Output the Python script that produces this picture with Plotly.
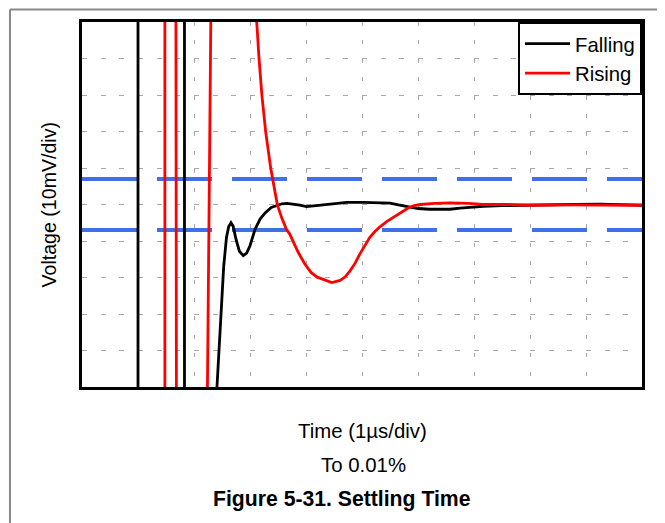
import plotly.graph_objects as go

# ---- data (time in µs, voltage in mV relative to final value) ----
falling_t = [0, 1.00, 1.00, 1.83, 1.83, 2.21, 2.41, 2.47, 2.53, 2.58, 2.62, 2.66, 2.70,
             2.75, 2.81, 2.88, 2.94, 3.00, 3.09, 3.18, 3.27, 3.38, 3.48, 3.57, 3.66,
             3.78, 3.89, 4.01, 4.13, 4.31, 4.50, 4.73, 5.02, 5.30, 5.50, 5.65, 5.83,
             6.00, 6.21, 6.57, 6.75, 7.16, 7.50, 7.77, 8.36, 8.80, 9.25, 9.60, 10.0]
falling_v = [-100, -100, 100, 100, -100, -100, -50, -33, -17, -9, -6, -5.0, -6.0,
             -9.5, -12.8, -14.0, -13.3, -11.3, -6.8, -4.0, -2.3, -0.8, -0.2, 0.2, 0.3,
             0.1, -0.2, -0.6, -0.4, 0.0, 0.4, 0.6, 0.6, 0.6, 0.4, -0.1, -0.6,
             -1.1, -1.3, -1.3, -1.0, -0.5, -0.3, -0.2, 0.0, 0.0, 0.1, 0.0, -0.2]

rising_t = [0, 1.48, 1.48, 1.673, 1.69, 2.21, 2.33, 3.00, 3.04, 3.08, 3.12, 3.16, 3.21,
            3.28, 3.37, 3.46, 3.49, 3.57, 3.65, 3.71, 3.86, 3.98, 4.09, 4.20, 4.31,
            4.46, 4.61, 4.70, 4.79, 4.88, 4.96, 5.05, 5.14, 5.23, 5.32, 5.44, 5.56,
            5.70, 5.83, 5.93, 6.04, 6.30, 6.57, 6.90, 7.16, 7.60, 8.00, 8.60, 9.25,
            9.70, 10.0]
rising_v = [-100, -100, 100, 100, -100, -100, 100, 100, 75, 60, 50, 40.3, 30.3,
            19.9, 9.95, 2.3, -0.2, -3.8, -6.8, -8.1, -13.1, -16.3, -18.6, -19.9, -20.6,
            -21.4, -20.8, -19.8, -18.1, -16.0, -13.6, -11.2, -9.0, -7.4, -6.1, -4.7, -3.5,
            -2.1, -0.9, -0.3, 0.0, 0.3, 0.45, 0.3, 0.0, 0.0, -0.2, -0.1, -0.2,
            -0.1, -0.2]

band_limits = [7, -7]          # ±0.01 % settling band, mV
time_span = [0, 10]

FONT = "Liberation Sans, Arial, Helvetica, sans-serif"

fig = go.Figure()

for lim in band_limits:
    fig.add_trace(go.Scatter(
        x=time_span, y=[lim, lim], mode="lines", showlegend=False, hoverinfo="skip",
        line=dict(color="#3f6fe9", width=4, dash="55px,20px")))

fig.add_trace(go.Scatter(x=falling_t, y=falling_v, mode="lines", name="Falling",
                         line=dict(color="black", width=2.8)))
fig.add_trace(go.Scatter(x=rising_t, y=rising_v, mode="lines", name="Rising",
                         line=dict(color="#ff0000", width=2.8)))

axis_common = dict(showline=True, linecolor="black", linewidth=3, mirror=True,
                   showticklabels=False, ticks="", zeroline=False,
                   showgrid=True, gridcolor="#a8a8a8", gridwidth=1)

fig.update_xaxes(range=[0, 10], dtick=1, tick0=0, griddash="4px,14.4px", **axis_common)
fig.update_yaxes(range=[-50, 50], dtick=10, tick0=0, griddash="5px,13.67px", **axis_common)

# outer frame (top and left edges visible)
fig.add_shape(type="line", xref="paper", yref="paper", x0=-0.1286, x1=1.06,
              y0=1.034, y1=1.034, line=dict(color="#888888", width=2))
fig.add_shape(type="line", xref="paper", yref="paper", x0=-0.1286, x1=-0.1286,
              y0=1.034, y1=-0.40, line=dict(color="#888888", width=2))

fig.add_annotation(text="Voltage (10mV/div)", xref="paper", yref="paper",
                   x=-0.0607, y=0.5, textangle=-90, showarrow=False,
                   xanchor="center", yanchor="middle", font=dict(size=19.6, color="black", family=FONT))
fig.add_annotation(text="Time (1µs/div)", xref="paper", yref="paper",
                   x=0.5, y=-0.121, showarrow=False, xanchor="center", yanchor="middle",
                   font=dict(size=20.4, color="black", family=FONT))
fig.add_annotation(text="To 0.01%", xref="paper", yref="paper",
                   x=0.503, y=-0.2133, showarrow=False, xanchor="center", yanchor="middle",
                   font=dict(size=20.4, color="black", family=FONT))
fig.add_annotation(text="<b>Figure 5-31. Settling Time</b>", xref="paper", yref="paper",
                   x=0.4634, y=-0.3057, showarrow=False, xanchor="center", yanchor="middle",
                   font=dict(size=21.2, color="black", family=FONT))

# page body has an 8px margin, so the figure is made 8px smaller to fit the window
fig.update_layout(
    width=657, height=515,
    margin=dict(l=74, r=23, t=11, b=136),
    paper_bgcolor="white", plot_bgcolor="white",
    font=dict(family=FONT, color="black"),
    showlegend=True,
    legend=dict(x=1.0, y=1.0, xanchor="right", yanchor="top",
                bgcolor="white", bordercolor="black", borderwidth=2,
                font=dict(size=20.3, color="black", family=FONT),
                itemwidth=45, tracegroupgap=0),
)

fig.write_html("out.html")
